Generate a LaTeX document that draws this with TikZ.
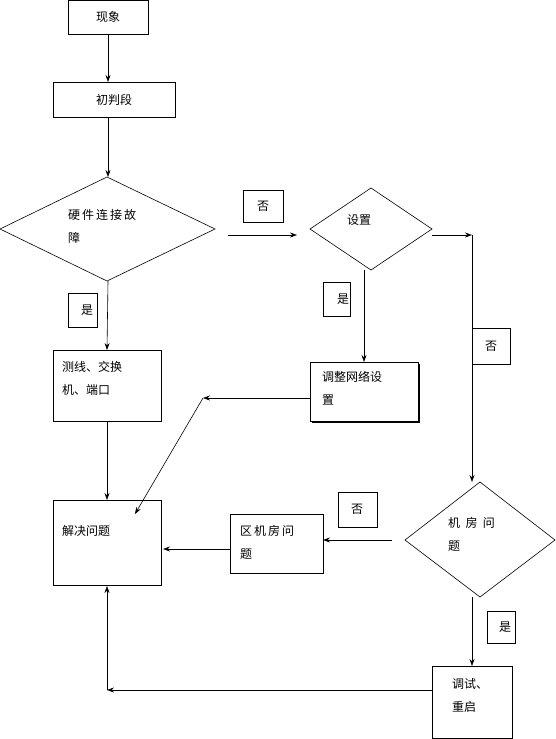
\documentclass[tikz,border=0pt]{standalone}
\usepackage{fontspec}
\setmainfont{Noto Sans CJK SC}
\usetikzlibrary{arrows.meta}
\begin{document}
\begin{tikzpicture}[x=1pt,y=-1pt,
 box/.style={draw,line width=0.6pt},
 arr/.style={-{Stealth[length=7pt,width=5pt]},line width=0.6pt},
 ln/.style={line width=0.6pt},
 txt/.style={font=\fontsize{12}{23}\selectfont,align=left,anchor=north west,inner sep=0pt}]
\useasboundingbox (0,0) rectangle (555,739);
% boxes
\draw[box] (68,0.3) rectangle (148,34);
\node[txt,anchor=center] (xx) at (108,17) {现象};
\coordinate (xxb) at (108,34);
\draw[box] (53,82) rectangle (175,117);
\node[txt,anchor=center] (cp) at (114,100) {初判段};
\coordinate (cpt) at (108,82); \coordinate (cpb) at (108,117);
\draw[box] (0,229)--(107,177)--(215,229)--(107,281)--cycle;
\node[txt] (yj) at (68,209) {硬\,件\,连\,接\,故\\障};
\coordinate (yjt) at (108,177); \coordinate (yjb) at (108,281);
\coordinate (yjr) at (228,235); \coordinate (szl) at (297,235);
\draw[box] (310,229)--(371,188)--(432,229)--(371,270)--cycle;
\node[txt] (sz) at (347,214) {设置};
\coordinate (szb) at (364,270); \coordinate (szr) at (432,235);
\coordinate (c1) at (472,235);
\draw[box] (405,540)--(480,482)--(555,540)--(480,597)--cycle;
\node[txt] (jf) at (448,517) {机\ \ 房\ \ 问\\题};
\coordinate (jft) at (472,482); \coordinate (jfb) at (472,597); \coordinate (jfl) at (392,540);
\draw[box] (310,362) rectangle (418,421);
\draw[ln] (312,422.5)--(419.5,422.5)--(419.5,364);
\node[txt] (tz) at (322,371) {调整网络设\\置};
\coordinate (tzt) at (364,362); \coordinate (tzl) at (310,398); \coordinate (c2) at (203,398);
\draw[box] (53,350) rectangle (161,421);
\node[txt] (cx) at (62,361) {测线、交换\\机、端口};
\coordinate (cxt) at (107,350); \coordinate (cxb) at (107,421);
\draw[box] (53,500) rectangle (161,585);
\node[txt] (jj) at (62,525) {解决问题};
\coordinate (jjt) at (107,500); \coordinate (jjr) at (163,549); \coordinate (jjc) at (135,514); \coordinate (jjb) at (107,586);
\draw[box] (230,514) rectangle (323,573);
\node[txt] (qj) at (240,525) {区\,机\,房\,问\\题};
\coordinate (qjr) at (323,540); \coordinate (qjl) at (230,549);
\draw[box] (432,666) rectangle (512,738.5);
\node[txt] (ts) at (452,678) {调试、\\重启};
\coordinate (tsl) at (432,690); \coordinate (c3) at (107,690); \coordinate (tst) at (472,666);
% labels
\draw[box] (243,190) rectangle (283,222); \node[txt,anchor=center] (l1) at (263,206) {否};
\draw[box] (323,282) rectangle (350,316); \node[txt,anchor=center] (l2) at (343,299) {是};
\draw[box] (68,293) rectangle (97,327); \node[txt,anchor=center] (l3) at (87,310) {是};
\draw[box] (472,328) rectangle (510,364); \node[txt,anchor=center] (l4) at (491,346) {否};
\draw[box] (338,492) rectangle (377,527); \node[txt,anchor=center] (l5) at (357,509) {否};
\draw[box] (487,611) rectangle (515,643); \node[txt,anchor=center] (l6) at (505,627) {是};
% connectors
\draw[arr] (xxb)--(cpt);
\draw[arr] (cpb)--(yjt);
\draw[arr] (yjr)--(szl);
\draw[arr] (szr)--(c1);
\draw[arr] (c1)--(jft);
\draw[arr] (szb)--(tzt);
\draw[arr] (tzl)--(c2);
\draw[arr] (c2)--(jjc);
\draw[arr] (yjb)--(cxt);
\draw[arr] (cxb)--(jjt);
\draw[arr] (jfl)--(qjr);
\draw[arr] (qjl)--(jjr);
\draw[arr] (jfb)--(tst);
\draw[arr] (tsl)--(c3);
\draw[arr] (c3)--(jjb);
\end{tikzpicture}
\end{document}
